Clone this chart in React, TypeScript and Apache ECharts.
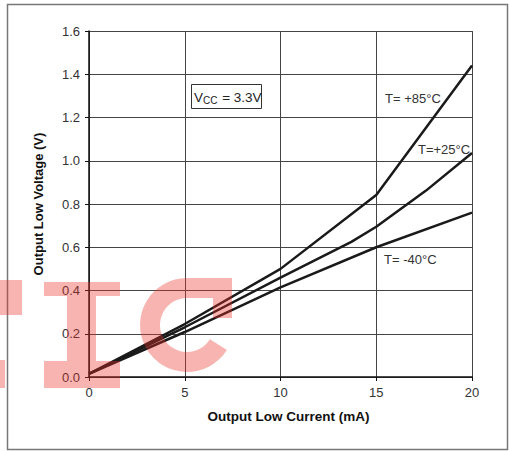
import React, { useEffect, useRef } from "react";
import * as echarts from "echarts";

// Output low current (mA)
const xHot = [0, 5, 10, 15, 20];
const yHot = [0.015, 0.245, 0.5, 0.842, 1.44]; // T = +85°C
const xRoom = [0, 5, 10, 13.7, 15, 17.6, 20];
const yRoom = [0.015, 0.23, 0.46, 0.625, 0.695, 0.862, 1.036]; // T = +25°C
const xCold = [0, 5, 10, 15, 20];
const yCold = [0.015, 0.208, 0.414, 0.6, 0.76]; // T = -40°C

const seriesNames = ["T= +85°C", "T=+25°C", "T= -40°C"];
const xTicks = { min: 0, max: 20, interval: 5 };
const yTicks = { min: 0, max: 1.6, interval: 0.2 };
const xName = "Output Low Current (mA)";
const yName = "Output Low Voltage (V)";

const FONT = "'Liberation Sans', Arial, Helvetica, sans-serif";
const WM = "rgba(232,48,38,0.36)";

const C_PATH =
  "M 232 278 L 187 278 A 47 47 0 1 0 226.9 349.9 L 209.9 339.3 A 27 27 0 1 1 187 298 L 213 298 L 213 318 L 232 318 Z";

let registered = false;
function registerShapes() {
  if (registered) return;
  echarts.graphic.registerShape("wmC", echarts.graphic.extendPath(C_PATH, {}) as any);
  registered = true;
}

const zip = (xs: number[], ys: number[]) => xs.map((x, i) => [x, ys[i]]);

export default function App() {
  const ref = useRef<HTMLDivElement>(null);
  useEffect(() => {
    if (!ref.current) return;
    registerShapes();
    const chart = echarts.init(ref.current, undefined, { renderer: "svg" });
    const lineStyle = { color: "#1a1a1a", width: 2.5 };
    chart.setOption({
      animation: false,
      backgroundColor: "#fff",
      grid: { left: 89, right: 37, top: 31, bottom: 74, containLabel: false },
      xAxis: {
        type: "value",
        ...xTicks,
        name: xName,
        nameLocation: "middle",
        nameGap: 32,
        nameTextStyle: {
          fontFamily: FONT,
          fontWeight: "bold",
          fontSize: 13.5,
          color: "#111",
          padding: [0, 0, 0, 16],
        },
        axisLine: { show: true, lineStyle: { color: "#111", width: 1.5 } },
        axisTick: { show: true, length: 4, lineStyle: { color: "#111", width: 1 } },
        axisLabel: { color: "#333", fontSize: 13, fontFamily: FONT, margin: 9 },
        splitLine: { show: true, lineStyle: { color: "#444", width: 1 } },
      },
      yAxis: {
        type: "value",
        ...yTicks,
        name: yName,
        nameLocation: "middle",
        nameGap: 44,
        nameTextStyle: { fontFamily: FONT, fontWeight: "bold", fontSize: 13, color: "#111" },
        axisLine: { show: true, lineStyle: { color: "#111", width: 1.5 } },
        axisTick: { show: true, length: 4, lineStyle: { color: "#111", width: 1 } },
        axisLabel: {
          color: "#333",
          fontSize: 13,
          fontFamily: FONT,
          margin: 9,
          formatter: (v: number) => v.toFixed(1),
        },
        splitLine: { show: true, lineStyle: { color: "#444", width: 1 } },
      },
      series: [
        { type: "line", name: seriesNames[0], data: zip(xHot, yHot), symbol: "none", lineStyle },
        { type: "line", name: seriesNames[1], data: zip(xRoom, yRoom), symbol: "none", lineStyle },
        { type: "line", name: seriesNames[2], data: zip(xCold, yCold), symbol: "none", lineStyle },
      ],
      graphic: [
        {
          type: "rect",
          z: 0,
          shape: { x: 7.5, y: 4.5, width: 500, height: 445 },
          style: { fill: "none", stroke: "#777", lineWidth: 1.5 },
        },
        {
          type: "rect",
          z: 50,
          shape: { x: 191.5, y: 84.5, width: 70, height: 24 },
          style: { fill: "#fff", stroke: "#333", lineWidth: 1 },
        },
        {
          type: "text",
          z: 51,
          x: 194,
          y: 97,
          style: {
            text: "{v|V}{s|CC}{v| = 3.3V}",
            verticalAlign: "middle",
            rich: {
              v: { fontSize: 13.5, fontFamily: FONT, fill: "#222" },
              s: { fontSize: 10, fontFamily: FONT, fill: "#222", padding: [6, 1, 0, 0] },
            },
          },
        },
        {
          type: "text",
          z: 51,
          x: 385,
          y: 98,
          style: { text: seriesNames[0], fontSize: 13, fontFamily: FONT, fill: "#333", verticalAlign: "middle" },
        },
        {
          type: "text",
          z: 51,
          x: 418,
          y: 149,
          style: { text: seriesNames[1], fontSize: 13, fontFamily: FONT, fill: "#333", verticalAlign: "middle" },
        },
        {
          type: "text",
          z: 51,
          x: 384,
          y: 259,
          style: { text: seriesNames[2], fontSize: 13, fontFamily: FONT, fill: "#333", verticalAlign: "middle" },
        },
        // watermark
        { type: "rect", z: 100, shape: { x: 0, y: 280, width: 22, height: 35 }, style: { fill: WM } },
        { type: "rect", z: 100, shape: { x: 0, y: 360, width: 5, height: 28 }, style: { fill: WM } },
        { type: "rect", z: 100, shape: { x: 44, y: 282, width: 76, height: 14 }, style: { fill: WM } },
        { type: "rect", z: 100, shape: { x: 67, y: 296, width: 29, height: 65 }, style: { fill: WM } },
        { type: "rect", z: 100, shape: { x: 44, y: 361, width: 76, height: 27 }, style: { fill: WM } },
        { type: "wmC", z: 100, x: 0, y: 0, style: { fill: WM } },
      ],
    });
    return () => chart.dispose();
  }, []);
  return (
    <div
      ref={ref}
      style={{ position: "fixed", left: 0, top: 0, width: 509, height: 451, background: "#fff" }}
    />
  );
}
